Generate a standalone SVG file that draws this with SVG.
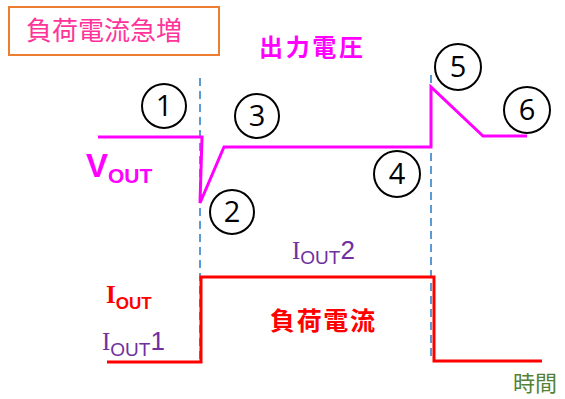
<svg xmlns="http://www.w3.org/2000/svg" width="565" height="399" viewBox="0 0 565 399">
<style>
.jp{font-family:"Noto Sans CJK JP","Noto Sans",sans-serif}
.num circle{fill:#fff;stroke:#000;stroke-width:2}
.num text{font-family:"Open Sans","Liberation Sans",sans-serif;font-size:29px;fill:#000;text-anchor:middle}
.dash{stroke:#5B9BD5;stroke-width:2;stroke-dasharray:8 5;fill:none}
.vout{stroke:#FF00FF;stroke-width:3;fill:none;stroke-linejoin:miter}
.iout{stroke:#FF0000;stroke-width:3;fill:none;stroke-linejoin:miter}
.ser{font-family:"Liberation Serif",serif}
.sans{font-family:"Liberation Sans",sans-serif}
</style>
<rect width="565" height="399" fill="#fff"/>
<g id="title">
<rect x="9" y="7" width="210" height="48" fill="#fff" stroke="#ED7D31" stroke-width="2"/>
<text x="26" y="40" class="jp" font-size="26" fill="#FF3399">負荷電流急増</text>
</g>
<g id="connectors">
<line class="dash" x1="200" y1="78" x2="200" y2="362"/>
<line class="dash" x1="431" y1="75" x2="431" y2="358"/>
<polyline class="vout" points="98,137 202,137 200,203 224,147 431,147 431,87 483,136 527,136"/>
<polyline class="iout" points="107,362 201,362 201,277 434,277 434,361 542,361"/>
</g>
<g id="label-vout-title"><text x="259" y="56" class="jp" font-size="24" font-weight="bold" fill="#FF00FF" textLength="104">出力電圧</text></g>
<g id="label-vout"><text x="86" y="177" class="sans" font-weight="bold" fill="#FF00FF"><tspan font-size="33">V</tspan><tspan font-size="21" dy="6">OUT</tspan></text></g>
<g id="label-iout"><text x="106" y="303" font-weight="bold" fill="#FF0000"><tspan class="ser" font-size="25">I</tspan><tspan class="sans" font-size="17" dy="6">OUT</tspan></text></g>
<g id="label-iout1"><text x="102" y="350" fill="#7030A0"><tspan class="ser" font-size="25">I</tspan><tspan class="sans" font-size="19" dy="6">OUT</tspan><tspan class="sans" font-size="26" dy="-6">1</tspan></text></g>
<g id="label-iout2"><text x="292" y="259" fill="#7030A0"><tspan class="ser" font-size="25">I</tspan><tspan class="sans" font-size="19" dy="5">OUT</tspan><tspan class="sans" font-size="26" dy="-5">2</tspan></text></g>
<g id="label-load"><text x="270" y="330" class="jp" font-size="25" font-weight="bold" fill="#FF0000" textLength="105">負荷電流</text></g>
<g id="label-time"><text x="513" y="391" class="jp" font-size="22" fill="#548235">時間</text></g>
<g id="n1" class="num"><circle cx="164" cy="106" r="22"/><text x="164" y="116">1</text></g>
<g id="n2" class="num"><circle cx="232" cy="212" r="22"/><text x="232" y="222">2</text></g>
<g id="n3" class="num"><circle cx="257" cy="116" r="22"/><text x="257" y="126">3</text></g>
<g id="n4" class="num"><circle cx="397" cy="174" r="23"/><text x="397" y="184">4</text></g>
<g id="n5" class="num"><circle cx="458" cy="67" r="23"/><text x="458" y="77">5</text></g>
<g id="n6" class="num"><circle cx="527" cy="110" r="23"/><text x="527" y="120">6</text></g>
</svg>
